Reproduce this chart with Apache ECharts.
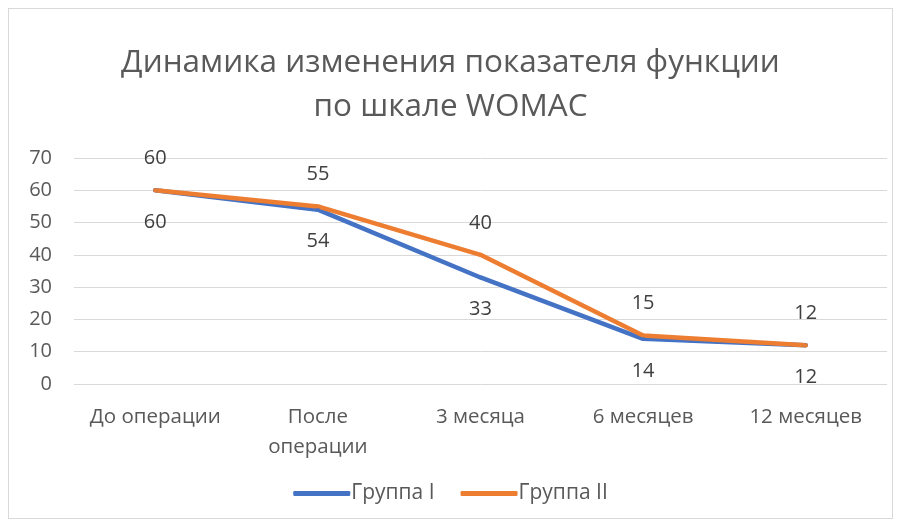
<!DOCTYPE html>
<html>
<head>
<meta charset="utf-8">
<script src="https://cdn.jsdelivr.net/npm/echarts@6/dist/echarts.min.js"></script>
<style>
  html, body { margin: 0; padding: 0; background: #fff; }
  #chart { position: absolute; left: 8px; top: 8px; width: 885px; height: 511px; border: 1px solid #d9d9d9; box-sizing: border-box; }
</style>
</head>
<body>
<div id="chart"></div>
<script>
var categories = ['До операции', 'После\nоперации', '3 месяца', '6 месяцев', '12 месяцев'];
var group1 = [60, 54, 33, 14, 12];
var group2 = [60, 55, 40, 15, 12];
var yTicks = {min: 0, max: 70, interval: 10};

var chart = echarts.init(document.getElementById('chart'));
var font = '"Open Sans", "Liberation Sans", sans-serif';

option = {
    animation: false,
    color: ['#4472C4', '#ED7D31'],
    title: {
        text: 'Динамика изменения показателя функции\nпо шкале WOMAC',
        left: 'center',
        top: 27,
        textStyle: {
            fontFamily: font,
            fontSize: 31.5,
            fontWeight: 'normal',
            color: '#595959',
            lineHeight: 44
        }
    },
    legend: {
        bottom: 9,
        left: 'center',
        itemWidth: 57,
        itemHeight: 5,
        itemGap: 26,
        icon: 'roundRect',
        textStyle: {fontFamily: font, fontSize: 21, color: '#595959', padding: [0, 0, 0, -4]},
        data: ['Группа I', 'Группа II']
    },
    grid: {
        left: 65,
        right: 5,
        top: 149,
        bottom: 134
    },
    xAxis: {
        type: 'category',
        data: categories,
        axisLine: {show: false},
        axisTick: {show: false},
        axisLabel: {
            interval: 0,
            hideOverlap: false,
            fontFamily: font,
            fontSize: 20.5,
            color: '#595959',
            margin: 18,
            lineHeight: 30
        }
    },
    yAxis: {
        type: 'value',
        min: yTicks.min,
        max: yTicks.max,
        interval: yTicks.interval,
        axisLabel: {fontFamily: font, fontSize: 20, color: '#595959', margin: 22},
        splitLine: {lineStyle: {color: '#d9d9d9', width: 1}}
    },
    series: [
        {
            name: 'Группа I',
            type: 'line',
            data: group1,
            symbol: 'circle',
            symbolSize: 4,
            lineStyle: {width: 4.5, cap: 'round'},
            label: {
                show: true,
                position: 'bottom',
                distance: 20,
                fontFamily: font,
                fontSize: 20,
                color: '#404040'
            }
        },
        {
            name: 'Группа II',
            type: 'line',
            data: group2,
            symbol: 'circle',
            symbolSize: 4,
            lineStyle: {width: 4.5, cap: 'round'},
            label: {
                show: true,
                position: 'top',
                distance: 20,
                fontFamily: font,
                fontSize: 20,
                color: '#404040'
            }
        }
    ]
};

chart.setOption(option);
</script>
</body>
</html>
